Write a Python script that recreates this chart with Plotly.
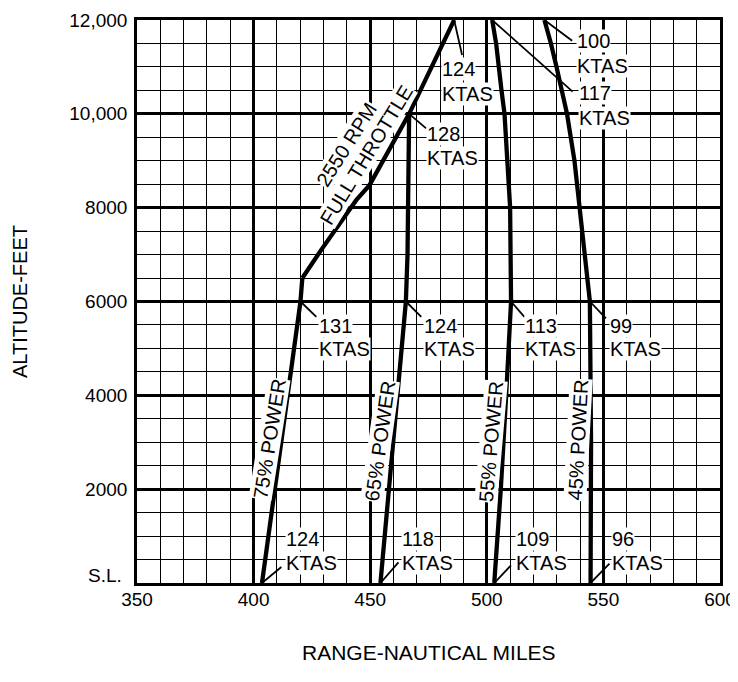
import plotly.graph_objects as go

# ---- data (range in nautical miles, altitude in feet) ----
range_75 = [403.6, 420.1, 420.9]
alt_75 = [0, 6000, 6500]

range_full_throttle = [420.9, 429.0, 444.0, 449.7, 466.7, 486.0]
alt_full_throttle = [6500, 7100, 8160, 8480, 10000, 12000]

range_65 = [454.4, 465.3, 466.0, 466.7]
alt_65 = [0, 6000, 7000, 10000]

range_55 = [503.2, 506.0, 508.3, 510.4, 510.0, 509.2, 508.6, 507.6, 506.3, 505.1, 504.0, 502.3]
alt_55 = [0, 2000, 4000, 6000, 8000, 8600, 9000, 10000, 10500, 11000, 11500, 12000]

range_45 = [544.5, 544.7, 544.2, 540.0, 537.6, 534.4, 532.3, 529.9, 527.5, 524.7]
alt_45 = [0, 3000, 6000, 8000, 9000, 10000, 10500, 11000, 11500, 12000]

x_tick_vals = [350, 400, 450, 500, 550, 600]
x_tick_text = ["350", "400", "450", "500", "550", "600"]
y_tick_vals = [0, 2000, 4000, 6000, 8000, 10000, 12000]
y_tick_text = ["S.L.", "2000", "4000", "6000", "8000", "10,000", "12,000"]

ktas_values = ["124", "128", "100", "117", "131", "124", "113", "99", "124", "118", "109", "96"]
power_labels = ["75% POWER", "65% POWER", "55% POWER", "45% POWER"]
rpm_labels = ["2550 RPM", "FULL THROTTLE"]
x_title = "RANGE-NAUTICAL MILES"
y_title = "ALTITUDE-FEET"

FONT = "Liberation Sans, Arial, sans-serif"

fig = go.Figure()
for xs, ys in [(range_75, alt_75), (range_full_throttle, alt_full_throttle),
               (range_65, alt_65), (range_55, alt_55), (range_45, alt_45)]:
    fig.add_trace(go.Scatter(x=xs, y=ys, mode="lines",
                             line=dict(color="black", width=4.3),
                             showlegend=False, hoverinfo="skip"))

# ---- KTAS callouts: label position (left x, line1 y, line2 y) and leader line ----
label_pos = [
    (480.4, 10956, 10423), (474.0, 9569, 9068), (538.3, 11553, 11030), (539.0, 10444, 9921),
    (427.6, 5475, 4984), (472.6, 5475, 4984), (516.1, 5475, 4984), (552.6, 5475, 4984),
    (413.3, 932, 431), (463.3, 932, 431), (511.9, 932, 431), (553.3, 932, 431),
]
leaders = [
    ((486.0, 12000), (489.4, 11254)), ((466.7, 10000), (474.0, 9691)),
    ((524.7, 12000), (536.6, 11559)), ((502.3, 12000), (536.8, 10472)),
    ((420.1, 6000), (426.9, 5673)), ((465.3, 6000), (471.9, 5673)),
    ((510.4, 6000), (516.1, 5673)), ((544.2, 6000), (551.1, 5639)),
    ((403.6, 0), (411.9, 341)), ((454.4, 0), (462.1, 441)),
    ((503.2, 0), (510.4, 377)), ((544.5, 0), (552.6, 414)),
]

annotations = []
shapes = []
for txt, (lx, y1, y2) in zip(ktas_values, label_pos):
    for t, yy in ((txt, y1), ("KTAS", y2)):
        annotations.append(dict(x=lx, y=yy, xref="x", yref="y", text=t, showarrow=False,
                                xanchor="left", yanchor="middle", bgcolor="white", borderpad=0,
                                font=dict(family=FONT, size=20, color="black")))
for (x0, y0), (x1, y1) in leaders:
    shapes.append(dict(type="line", xref="x", yref="y", x0=x0, y0=y0, x1=x1, y1=y1,
                       line=dict(color="black", width=1.8)))

# rotated curve labels
power_pos = [(406.8, 3072, -81), (454.1, 3033, -82), (501.6, 3016, -85), (539.2, 3043, -87)]
for txt, (px, py, ang) in zip(power_labels, power_pos):
    annotations.append(dict(x=px, y=py, xref="x", yref="y", text=txt, showarrow=False,
                            textangle=ang, xanchor="center", yanchor="middle", bgcolor="white",
                            borderpad=0, font=dict(family=FONT, size=20, color="black")))
rpm_pos = [(440.0, 9357, -57.6), (448.4, 9122, -58.6)]
for txt, (px, py, ang) in zip(rpm_labels, rpm_pos):
    annotations.append(dict(x=px, y=py, xref="x", yref="y", text=txt, showarrow=False,
                            textangle=ang, xanchor="center", yanchor="middle", bgcolor="white",
                            borderpad=0, font=dict(family=FONT, size=20, color="black")))

# S.L. tick label sits on the axis line
annotations.append(dict(x=0, y=y_tick_vals[0], xref="paper", yref="y", text=y_tick_text[0],
                        showarrow=False, xanchor="right", yanchor="bottom", xshift=-13, yshift=-5,
                        font=dict(family=FONT, size=19, color="black")))

# axis titles
annotations.append(dict(x=0.5, y=0, xref="paper", yref="paper", text=x_title, showarrow=False,
                        xanchor="center", yanchor="middle", yshift=-69,
                        font=dict(family=FONT, size=21, color="black")))
annotations.append(dict(x=0, y=0.5, xref="paper", yref="paper", text=y_title, showarrow=False,
                        textangle=-90, xanchor="center", yanchor="middle", xshift=-117.5,
                        font=dict(family=FONT, size=20, color="black")))

axis_common = dict(showgrid=True, gridcolor="black", gridwidth=2.6, zeroline=False,
                   showline=True, linecolor="black", linewidth=2.6, mirror=True,
                   automargin=False,
                   ticks="", tickfont=dict(family=FONT, size=19, color="black"))

# page body has an 8px margin: size/margins compensate so the plot area lands at
# x 137..720, y 20..583 in the 738x682 window (and no scrollbar appears)
fig.update_layout(
    width=730, height=666,
    margin=dict(l=129, r=18, t=12, b=91),
    paper_bgcolor="white", plot_bgcolor="white",
    xaxis=dict(range=[350, 600], tickvals=x_tick_vals, ticktext=x_tick_text,
               ticklabelstandoff=-3, ticklabeloverflow="allow",
               minor=dict(tick0=350, dtick=10, showgrid=True, gridcolor="black", gridwidth=1.3),
               **axis_common),
    yaxis=dict(range=[0, 12000], tickvals=y_tick_vals,
               ticktext=[""] + y_tick_text[1:], ticklabelstandoff=3,
               minor=dict(tick0=0, dtick=500, showgrid=True, gridcolor="black", gridwidth=1.3),
               **axis_common),
    annotations=annotations,
    shapes=shapes,
)

fig.write_html("out.html")
